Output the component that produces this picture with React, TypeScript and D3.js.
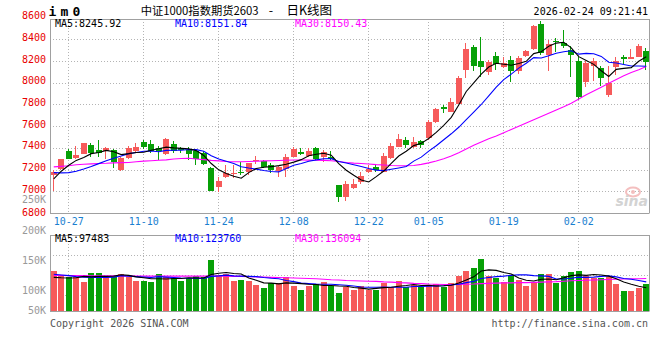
import React from "react";
import * as d3 from "d3";

const dates = (
  "10-23 10-24 10-27 10-28 10-29 10-30 10-31 " +
  "11-03 11-04 11-05 11-06 11-07 11-10 11-11 11-12 11-13 11-14 " +
  "11-17 11-18 11-19 11-20 11-21 11-24 11-25 11-26 11-27 11-28 " +
  "12-01 12-02 12-03 12-04 12-05 12-08 12-09 12-10 12-11 12-12 " +
  "12-15 12-16 12-17 12-18 12-19 12-22 12-23 12-24 12-25 12-26 " +
  "12-29 12-30 12-31 01-05 01-06 01-07 01-08 01-09 01-12 01-13 01-14 01-15 01-16 " +
  "01-19 01-20 01-21 01-22 01-23 01-26 01-27 01-28 01-29 01-30 " +
  "02-02 02-03 02-04 02-05 02-06 02-09 02-10 02-11 02-12 02-13"
).split(" ");

const dateTicks = ["10-27", "11-10", "11-24", "12-08", "12-22", "01-05", "01-19", "02-02"];
const priceTicks = [6800, 7000, 7200, 7400, 7600, 7800, 8000, 8200, 8400, 8600];
const volTicksK = [50, 100, 150, 200, 250];

const opens = [
  7150, 7203, 7372, 7308, 7347, 7427, 7381, 7371, 7381, 7196,
  7310, 7374, 7452, 7436, 7396, 7344, 7436, 7400, 7385, 7371,
  7356, 7212, 7042, 7128, 7164, 7178, 7175, 7275, 7282, 7242,
  7190, 7203, 7319, 7362, 7328, 7396, 7319, 7319, 7058, 6950,
  7033, 7088, 7175, 7220, 7181, 7305, 7411, 7473, 7411, 7464,
  7489, 7636, 7780, 7734, 7805, 8118, 8333, 8204, 8102, 8250,
  8150, 8210, 8105, 8250, 8310, 8539, 8258, 8387, 8364, 8305,
  8200, 8010, 8158, 8134, 7890, 8148, 8236, 8222, 8240, 8293,
];
const highs = [
  7195, 7300, 7390, 7418, 7448, 7442, 7473, 7411, 7390, 7320,
  7420, 7445, 7475, 7475, 7418, 7490, 7464, 7405, 7405, 7385,
  7370, 7225, 7135, 7242, 7242, 7267, 7265, 7325, 7285, 7264,
  7230, 7345, 7410, 7400, 7396, 7405, 7381, 7372, 7062, 7095,
  7110, 7181, 7240, 7243, 7355, 7445, 7528, 7502, 7498, 7470,
  7657, 7765, 7795, 7862, 8060, 8364, 8348, 8425, 8210, 8287,
  8240, 8250, 8250, 8300, 8530, 8570, 8395, 8413, 8485, 8335,
  8240, 8205, 8230, 8155, 8155, 8240, 8260, 8312, 8355, 8320,
];
const lows = [
  7005, 7192, 7295, 7300, 7340, 7319, 7319, 7300, 7212, 7190,
  7295, 7350, 7390, 7355, 7290, 7330, 7350, 7350, 7290, 7240,
  7245, 7000, 6990, 7120, 7120, 7150, 7150, 7250, 7215, 7172,
  7130, 7135, 7315, 7335, 7315, 7290, 7273, 7290, 6904, 6910,
  7025, 7065, 7170, 7176, 7175, 7300, 7405, 7396, 7400, 7396,
  7470, 7627, 7725, 7730, 7800, 8041, 8112, 8056, 8072, 8117,
  8140, 8010, 8080, 8240, 8300, 8255, 8112, 8285, 8320, 8055,
  7840, 7965, 8020, 7972, 7866, 8075, 8175, 8218, 8235, 8118,
];
const closes = [
  7182, 7298, 7302, 7335, 7442, 7356, 7356, 7396, 7273, 7310,
  7400, 7411, 7406, 7370, 7371, 7478, 7374, 7385, 7345, 7295,
  7252, 7005, 7095, 7166, 7170, 7170, 7258, 7288, 7225, 7196,
  7220, 7318, 7387, 7340, 7371, 7295, 7362, 7298, 6950, 7067,
  7065, 7144, 7206, 7195, 7325, 7418, 7479, 7427, 7457, 7430,
  7640, 7759, 7756, 7826, 8047, 8312, 8155, 8149, 8195, 8170,
  8185, 8110, 8230, 8297, 8521, 8275, 8360, 8375, 8340, 8258,
  7870, 8180, 8204, 8042, 7995, 8200, 8222, 8240, 8336, 8190,
];

const ma5 = [
  7115, 7185, 7240, 7285, 7312, 7347, 7358, 7377, 7365, 7338,
  7347, 7358, 7360, 7379, 7392, 7407, 7400, 7396, 7391, 7375,
  7330, 7256, 7198, 7163, 7138, 7121, 7172, 7210, 7222, 7227,
  7237, 7249, 7269, 7292, 7327, 7342, 7351, 7333, 7255, 7194,
  7148, 7105, 7086, 7135, 7187, 7258, 7325, 7369, 7421, 7442,
  7487, 7543, 7608, 7682, 7795, 7920, 8000, 8080, 8145, 8180,
  8171, 8162, 8178, 8198, 8269, 8287, 8337, 8366, 8374, 8322,
  8241, 8205, 8170, 8111, 8058, 8124, 8133, 8140, 8199, 8240,
];
const ma10 = [
  7172, 7170, 7172, 7185, 7205, 7228, 7255, 7282, 7305, 7325,
  7347, 7358, 7369, 7372, 7365, 7377, 7379, 7378, 7385, 7384,
  7369, 7328, 7297, 7277, 7257, 7226, 7214, 7204, 7192, 7183,
  7179, 7211, 7240, 7257, 7277, 7290, 7300, 7301, 7274, 7261,
  7245, 7228, 7210, 7195, 7191, 7203, 7215, 7228, 7278, 7315,
  7370, 7420, 7475, 7530, 7590, 7660, 7730, 7800, 7880, 7960,
  8030, 8080, 8135, 8180, 8232, 8229, 8249, 8272, 8286, 8295,
  8264, 8271, 8268, 8243, 8190, 8182, 8169, 8155, 8155, 8152,
];
const ma30 = [
  7225, 7230, 7235, 7245, 7250, 7253, 7256, 7258, 7262, 7264,
  7266, 7272, 7278, 7282, 7286, 7290, 7297, 7302, 7304, 7298,
  7292, 7285, 7280, 7275, 7272, 7272, 7274, 7277, 7280, 7282,
  7284, 7286, 7288, 7288, 7287, 7286, 7285, 7282, 7275, 7266,
  7260, 7256, 7252, 7246, 7242, 7238, 7236, 7236, 7238, 7248,
  7262, 7280, 7300, 7325, 7355, 7390, 7425, 7455, 7485, 7510,
  7540, 7570, 7600, 7630, 7660, 7690, 7720, 7750, 7780, 7812,
  7850, 7890, 7925, 7960, 7995, 8030, 8065, 8095, 8120, 8150,
];

// volume in thousands of lots
const volumes = [
  167, 147, 143, 140, 121, 158, 158, 143, 143, 154,
  143, 126, 126, 121, 154, 140, 136, 126, 136, 147,
  140, 210, 150, 153, 126, 129, 126, 108, 97, 118,
  118, 143, 104, 88, 104, 112, 122, 104, 76, 101,
  88, 104, 88, 88, 115, 101, 125, 99, 108, 99,
  104, 112, 101, 118, 147, 168, 178, 217, 147, 136,
  122, 150, 129, 104, 122, 154, 154, 115, 147, 164,
  168, 147, 136, 136, 140, 112, 83, 83, 97, 111,
];
const vma5 = [
  140, 138, 137, 138, 144, 142, 144, 144, 145, 151,
  148, 142, 138, 134, 134, 133, 135, 135, 138, 137,
  137, 152, 157, 160, 156, 154, 137, 128, 117, 116,
  113, 117, 116, 114, 111, 110, 106, 106, 104, 103,
  98, 95, 91, 94, 97, 99, 103, 106, 110, 106,
  107, 104, 105, 107, 116, 129, 142, 166, 171, 169,
  160, 154, 137, 128, 125, 132, 133, 130, 138, 147,
  150, 148, 152, 150, 145, 134, 121, 111, 103, 97,
];
const vma10 = [
  153, 150, 147, 143, 141, 140, 140, 140, 141, 147,
  145, 143, 141, 139, 143, 141, 139, 137, 136, 136,
  135, 144, 146, 149, 146, 145, 144, 143, 139, 136,
  134, 127, 122, 116, 114, 112, 111, 111, 109, 107,
  104, 100, 99, 99, 100, 99, 99, 99, 102, 102,
  103, 104, 105, 108, 111, 118, 123, 135, 139, 143,
  145, 148, 151, 150, 147, 146, 144, 133, 133, 136,
  141, 140, 141, 144, 146, 142, 135, 132, 127, 121,
];
const vma30 = [
  148, 148, 147, 147, 147, 146, 146, 146, 146, 146,
  145, 145, 145, 145, 145, 145, 145, 145, 145, 145,
  145, 145, 145, 145, 144, 144, 143, 142, 141, 140,
  139, 138, 137, 136, 135, 134, 132, 130, 129, 127,
  126, 125, 124, 123, 121, 120, 118, 117, 115, 114,
  112, 111, 110, 110, 110, 111, 112, 114, 115, 116,
  117, 117, 118, 118, 119, 120, 121, 122, 124, 126,
  127, 128, 129, 130, 131, 132, 133, 134, 134, 135,
];

const priceLegend = ["MA5:8245.92", "MA10:8151.84", "MA30:8150.43"];
const volLegend = ["MA5:97483", "MA10:123760", "MA30:136094"];
const title = "中证1000指数期货2603";
const titleTail = "日K线图";
const stamp = "2026-02-24 09:21:41";
const symbol = "im0";

const RED = "#f65a5a";
const GREEN = "#07a007";
const GRID = "#b4b4b4";
const BORDER = "#a0a0a0";
const MONO = "'DejaVu Sans Mono', 'Liberation Mono', monospace";
const CJK = "'Noto Sans CJK SC', 'Noto Sans', sans-serif";
const maColors = ["#000000", "#0000ff", "#ff00ff"];

export default function App() {
  const W = 660;
  const H = 360;
  const L = 50;
  const R = 649.5;
  const mainTop = 19;
  const mainBottom = 213;
  const volTop = 235;
  const volBottom = 311;

  const x = d3
    .scaleBand<string>()
    .domain(dates)
    .range([L, 650])
    .paddingInner(0.25)
    .paddingOuter(0.125);
  const cx = (i: number) => (x(dates[i]) as number) + x.bandwidth() / 2;
  const y = d3.scaleLinear().domain([6800, 8600]).range([mainBottom, 17.7]);
  const yv = d3.scaleLinear().domain([0, 316000]).range([volBottom, volTop]);
  const yvLabel = d3.scaleLinear().domain([100, 200]).range([291, 230.5]);

  const priceLine = (arr: number[]) =>
    d3
      .line<number>()
      .x((_, i) => cx(i))
      .y((v) => y(v))(arr) as string;
  const volLine = (arr: number[]) =>
    d3
      .line<number>()
      .x((_, i) => cx(i))
      .y((v) => yv(v * 1000))(arr) as string;

  const bodyW = 6;

  return (
    <svg
      width={W}
      height={H}
      viewBox={`0 0 ${W} ${H}`}
      style={{ position: "absolute", left: 0, top: 0, background: "#fff" }}
    >
      <rect x={0} y={0} width={W} height={H} fill="#fff" />

      {/* header */}
      <text x={48.5} y={12} dominantBaseline="middle" fontFamily={MONO} fontWeight="bold" fontSize={13} letterSpacing={4.2} fill="#000">
        {symbol}
      </text>
      <text x={140.7} y={11.5} dominantBaseline="middle" fontFamily={CJK} fontSize={11.3} fill="#000">
        {title}
      </text>
      <text x={271} y={11.5} dominantBaseline="middle" textAnchor="middle" fontFamily={CJK} fontSize={12.5} fill="#000">
        -
      </text>
      <text x={286.5} y={11.5} dominantBaseline="middle" fontFamily={CJK} fontSize={12.5} fill="#000">
        {titleTail}
      </text>
      <text x={648} y={11.7} dominantBaseline="middle" textAnchor="end" fontFamily={MONO} fontSize={10} fill="#000">
        {stamp}
      </text>

      {/* main grid */}
      {priceTicks
        .filter((p) => p > 6800 && p < 8600)
        .map((p) => (
          <line key={"hg" + p} x1={L} x2={R} y1={Math.round(y(p)) + 0.5} y2={Math.round(y(p)) + 0.5} stroke={GRID} strokeDasharray="1 2" />
        ))}
      {dateTicks.map((d) => {
        const xx = Math.round(cx(dates.indexOf(d))) - 0.5;
        return (
          <g key={"vg" + d}>
            <line x1={xx} x2={xx} y1={mainTop} y2={mainBottom} stroke={GRID} strokeDasharray="1 2" />
            <line x1={xx} x2={xx} y1={volTop} y2={volBottom} stroke={GRID} strokeDasharray="1 2" />
          </g>
        );
      })}
      {[1, 2, 3].map((k) => (
        <line key={"vh" + k} x1={L} x2={R} y1={volTop + 20 * k + 0.5} y2={volTop + 20 * k + 0.5} stroke={GRID} strokeDasharray="1 2" />
      ))}

      {/* sina watermark */}
      <g opacity={0.9}>
        <ellipse cx={633} cy={192} rx={7} ry={4.5} fill="none" stroke="#f3b9b9" strokeWidth={2} />
        <circle cx={633} cy={192} r={2} fill="#f3b9b9" />
        <text x={648} y={206} textAnchor="end" fontFamily="'DejaVu Sans', sans-serif" fontStyle="italic" fontWeight="bold" fontSize={14} fill="#cfcfcf">
          sina
        </text>
      </g>

      {/* borders */}
      <line x1={L} x2={R} y1={mainTop + 0.5} y2={mainTop + 0.5} stroke={BORDER} />
      <line x1={L} x2={R} y1={mainBottom + 0.5} y2={mainBottom + 0.5} stroke={BORDER} />
      <line x1={L + 0.5} x2={L + 0.5} y1={mainTop} y2={mainBottom} stroke={BORDER} />
      <line x1={R} x2={R} y1={mainTop} y2={mainBottom} stroke={BORDER} />
      <line x1={L} x2={R} y1={volTop + 0.5} y2={volTop + 0.5} stroke={BORDER} />
      <line x1={L} x2={R} y1={volBottom + 0.5} y2={volBottom + 0.5} stroke={BORDER} />
      <line x1={L + 0.5} x2={L + 0.5} y1={volTop} y2={volBottom} stroke={BORDER} />
      <line x1={R} x2={R} y1={volTop} y2={volBottom} stroke={BORDER} />

      {/* candles */}
      {dates.map((d, i) => {
        const o = opens[i];
        const c = closes[i];
        const up = c >= o;
        const col = up ? RED : GREEN;
        const left = Math.round(cx(i) - bodyW / 2);
        const wx = left + 2.5;
        const top = Math.round(y(Math.max(o, c)));
        const bot = Math.round(y(Math.min(o, c)));
        return (
          <g key={"c" + d}>
            <line x1={wx} x2={wx} y1={Math.round(y(highs[i]))} y2={Math.round(y(lows[i]))} stroke={col} strokeWidth={1} />
            <rect x={left} y={top} width={bodyW} height={Math.max(1, bot - top)} fill={col} />
          </g>
        );
      })}

      {/* price MAs */}
      {[ma30, ma10, ma5].map((arr, k) => (
        <path key={"ma" + k} d={priceLine(arr)} fill="none" stroke={maColors[2 - k]} strokeWidth={1.1} />
      ))}

      {/* volume bars */}
      {dates.map((d, i) => {
        const up = closes[i] >= opens[i];
        const left = Math.round(cx(i) - bodyW / 2);
        const top = Math.round(yv(volumes[i] * 1000));
        return <rect key={"v" + d} x={left} y={top} width={bodyW} height={volBottom - top} fill={up ? RED : GREEN} />;
      })}
      {[vma30, vma10, vma5].map((arr, k) => (
        <path key={"vma" + k} d={volLine(arr)} fill="none" stroke={maColors[2 - k]} strokeWidth={1.1} />
      ))}

      {/* legends */}
      {priceLegend.map((t, k) => (
        <text key={"pl" + k} x={55 + 120 * k} y={24} dominantBaseline="middle" fontFamily={MONO} fontSize={10} fill={maColors[k]}>
          {t}
        </text>
      ))}
      {volLegend.map((t, k) => (
        <text key={"vl" + k} x={55 + 120 * k} y={239} dominantBaseline="middle" fontFamily={MONO} fontSize={10} fill={maColors[k]}>
          {t}
        </text>
      ))}

      {/* price axis labels */}
      {priceTicks.map((p) => (
        <text key={"pt" + p} x={46} y={p === 6800 ? 212.5 : y(p) - 1.6} dominantBaseline="middle" textAnchor="end" fontFamily={MONO} fontSize={10} fill="#e80000">
          {p}
        </text>
      ))}
      {/* volume axis labels */}
      {volTicksK.map((v) => (
        <text key={"vt" + v} x={46} y={Math.min(yvLabel(v), 311)} dominantBaseline="middle" textAnchor="end" fontFamily={MONO} fontSize={10} fill="#999">
          {v + "K"}
        </text>
      ))}

      {/* date labels */}
      {dateTicks.map((d) => {
        const c = cx(dates.indexOf(d));
        const half = 15;
        const xx = Math.max(L + half, c);
        return (
          <text key={"dt" + d} x={xx} y={221.7} dominantBaseline="middle" textAnchor="middle" fontFamily={MONO} fontSize={10} fill="#1a7fd0">
            {d}
          </text>
        );
      })}

      {/* footer */}
      <text x={50} y={324} dominantBaseline="middle" fontFamily={MONO} fontSize={10} fill="#555">
        Copyright 2026 SINA.COM
      </text>
      <text x={648} y={324} dominantBaseline="middle" textAnchor="end" fontFamily={MONO} fontSize={10} fill="#555">
        http://finance.sina.com.cn
      </text>
    </svg>
  );
}
